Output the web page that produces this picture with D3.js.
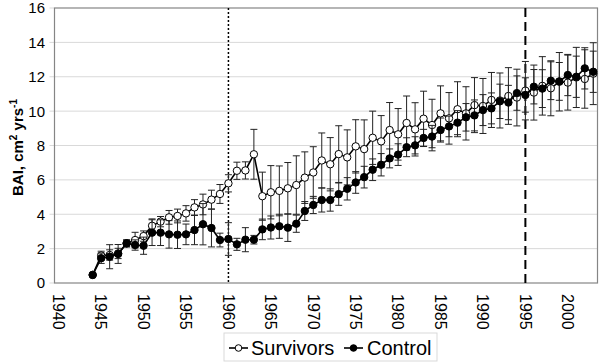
<!DOCTYPE html>
<html><head><meta charset="utf-8">
<script src="https://cdn.jsdelivr.net/npm/d3@7"></script>
<style>body{margin:0;background:#fff}svg{display:block}text{font-family:"Liberation Sans",Arial,sans-serif}</style>
</head><body><svg id="c" width="600" height="362"></svg>
<script>
const categories = d3.range(1940, 2004);
const years = d3.range(1944, 2004);
const survivors = [0.47,1.60,1.63,1.72,2.30,2.50,2.73,3.33,3.57,3.82,3.90,4.05,4.40,4.57,4.85,5.18,5.80,6.53,6.55,7.49,
5.05,5.28,5.36,5.51,5.70,6.13,6.43,7.13,6.91,7.50,7.31,7.95,7.79,8.45,8.24,8.90,8.65,9.31,8.94,9.56,
9.19,9.87,9.58,10.11,9.87,10.35,10.30,10.65,10.62,10.88,10.79,11.19,11.08,11.47,11.33,11.71,11.66,11.96,11.87,12.18];
const survivorsErr = [0,0.25,0.3,0.3,0.2,0.45,0.3,0.4,0.3,0.4,0.4,0.45,0.45,0.6,0.55,0.55,0.5,0.5,0.5,1.45,
1.4,1.55,1.45,1.5,1.7,1.5,1.5,1.6,1.55,1.65,1.6,1.55,1.7,1.55,1.5,1.6,1.5,1.57,1.55,1.6,
1.5,1.6,1.5,1.6,1.55,1.6,1.6,1.6,1.6,1.65,1.65,1.7,1.6,1.7,1.6,1.7,1.6,1.75,1.7,1.8];
const control = [0.47,1.44,1.53,1.69,2.31,2.21,2.17,2.93,2.93,2.83,2.81,2.83,3.08,3.42,3.20,2.50,2.56,2.25,2.52,2.52,
3.12,3.23,3.30,3.22,3.45,4.19,4.54,4.83,4.83,5.17,5.48,5.85,6.16,6.59,6.88,7.25,7.47,7.90,8.01,8.44,
8.52,8.90,9.11,9.33,9.64,9.75,10.06,10.16,10.57,10.50,11.05,10.94,11.42,11.31,11.77,11.73,12.10,12.00,12.49,12.29];
const controlErr = [0,0.3,0.7,0.55,0.2,0.3,0.5,0.75,0.75,0.8,0.8,0.6,0.85,1.2,1.1,0.4,0.95,0.35,0.7,0.25,
0.6,0.67,0.7,0.8,0.5,0.55,0.5,0.7,0.65,0.65,0.65,0.63,0.63,0.63,0.65,0.55,0.63,0.55,0.5,0.5,
0.65,0.7,0.6,0.7,0.8,0.9,0.9,0.9,1.0,1.0,1.0,1.0,1.0,1.1,1.1,1.1,1.2,1.2,1.2,1.2];
const yTicks = [0,2,4,6,8,10,12,14,16];
const xTickLabels = d3.range(1940, 2004, 5);
const refLines = [{year:1960, dash:"2,2", w:1.5}, {year:1995, dash:"9,5", w:2}];
const seriesNames = ["Survivors", "Control"];

const svg = d3.select("#c");
const L = 54.5, R = 597.5, T = 8, B = 283;
const x = d3.scaleBand().domain(categories).range([L, R]).padding(0);
const cx = d => x(d) + x.bandwidth()/2;
const y = d3.scaleLinear().domain([0,16]).range([B, T]);

// gridlines
svg.append("g").selectAll("line").data(yTicks.filter(v=>v>0 && v<16)).join("line")
  .attr("x1", L-5).attr("x2", R).attr("y1", d=>y(d)).attr("y2", d=>y(d))
  .attr("stroke", "#d9d9d9").attr("stroke-width", 1);
svg.append("g").selectAll("line").data([0,16]).join("line")
  .attr("x1", L-5).attr("x2", L).attr("y1", d=>y(d)).attr("y2", d=>y(d))
  .attr("stroke", "#d9d9d9").attr("stroke-width", 1);
// border
svg.append("rect").attr("x", L).attr("y", T).attr("width", R-L).attr("height", B-T)
  .attr("fill", "none").attr("stroke", "#858585").attr("stroke-width", 1.2);

// y labels
svg.append("g").selectAll("text").data(yTicks).join("text")
  .attr("x", 45).attr("y", d=>y(d)).attr("dy", "0.36em").attr("text-anchor", "end")
  .attr("font-size", 15).attr("fill", "#000").text(d=>d);
// x labels rotated
svg.append("g").selectAll("text").data(xTickLabels).join("text")
  .attr("transform", d=>`translate(${cx(d)},294) rotate(90)`)
  .attr("dy", "0.36em").attr("font-size", 16).attr("fill", "#000").text(d=>d);

// y title
const yt = svg.append("text").attr("transform", `translate(23,${(T+B)/2+2}) rotate(-90)`)
  .attr("text-anchor", "middle").attr("font-size", 15).attr("font-weight", "bold");
yt.append("tspan").text("BAI, cm");
yt.append("tspan").attr("font-size", 10).attr("dy", -6).text("2");
yt.append("tspan").attr("dy", 6).text(" yrs");
yt.append("tspan").attr("font-size", 10).attr("dy", -6).text("-1");

// reference lines
svg.append("g").selectAll("line").data(refLines).join("line")
  .attr("x1", d=>cx(d.year)).attr("x2", d=>cx(d.year)).attr("y1", T).attr("y2", B)
  .attr("stroke", "#000").attr("stroke-width", d=>d.w).attr("stroke-dasharray", d=>d.dash);

function drawSeries(vals, errs, fill) {
  const data = years.map((yr,i)=>({yr, v:vals[i], e:errs[i]}));
  const g = svg.append("g");
  const eb = g.append("g").attr("stroke", "#222").attr("stroke-width", 1);
  data.filter(d=>d.e>0).forEach(d=>{
    const X = cx(d.yr);
    eb.append("line").attr("x1", X).attr("x2", X).attr("y1", y(d.v-d.e)).attr("y2", y(d.v+d.e));
    eb.append("line").attr("x1", X-3.5).attr("x2", X+3.5).attr("y1", y(d.v-d.e)).attr("y2", y(d.v-d.e));
    eb.append("line").attr("x1", X-3.5).attr("x2", X+3.5).attr("y1", y(d.v+d.e)).attr("y2", y(d.v+d.e));
  });
  g.append("path").datum(data).attr("fill", "none").attr("stroke", "#000").attr("stroke-width", 1.6)
    .attr("d", d3.line().x(d=>cx(d.yr)).y(d=>y(d.v)));
  g.append("g").selectAll("circle").data(data).join("circle")
    .attr("cx", d=>cx(d.yr)).attr("cy", d=>y(d.v)).attr("r", 3.7)
    .attr("fill", fill).attr("stroke", "#000").attr("stroke-width", 1);
}
drawSeries(survivors, survivorsErr, "#fff");
drawSeries(control, controlErr, "#000");

// legend
const lg = svg.append("g");
lg.append("rect").attr("x", 224).attr("y", 333).attr("width", 213).attr("height", 28)
  .attr("fill", "#fff").attr("stroke", "#d9d9d9");
const items = [{name:seriesNames[0], fill:"#fff", x0:229, tx:251}, {name:seriesNames[1], fill:"#000", x0:344, tx:367}];
items.forEach(it=>{
  lg.append("line").attr("x1", it.x0).attr("x2", it.x0+19).attr("y1", 348).attr("y2", 348)
    .attr("stroke", "#000").attr("stroke-width", 1.6);
  lg.append("circle").attr("cx", it.x0+9.5).attr("cy", 348).attr("r", 3.3).attr("fill", it.fill)
    .attr("stroke", "#000").attr("stroke-width", 1);
  lg.append("text").attr("x", it.tx).attr("y", 348).attr("dy", "0.36em").attr("font-size", 20).text(it.name);
});
</script></body></html>
